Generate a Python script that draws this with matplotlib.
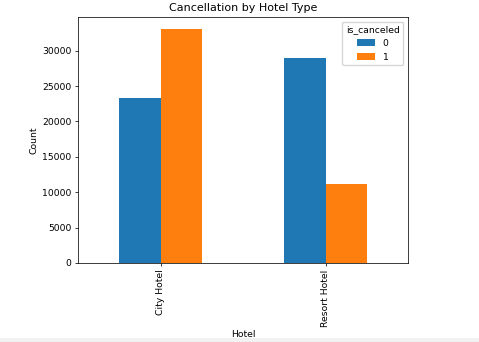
import matplotlib
matplotlib.use("Agg")
import matplotlib.pyplot as plt
import numpy as np
from matplotlib.patches import Rectangle

hotels = ["City Hotel", "Resort Hotel"]
not_canceled = [23300, 28938]
canceled = [33102, 11122]
series_labels = ["0", "1"]

s = 0.666
plt.rcParams.update({
    "font.size": 10 * s,
    "axes.linewidth": 0.8 * s,
    "xtick.major.size": 3.5 * s,
    "ytick.major.size": 3.5 * s,
    "xtick.major.width": 0.8 * s,
    "ytick.major.width": 0.8 * s,
    "xtick.major.pad": 3.5 * s,
    "ytick.major.pad": 3.5 * s,
    "axes.labelpad": 4 * s,
    "axes.titlepad": 6 * s,
})

W, H = 479, 342
fig = plt.figure(figsize=(W / 100, H / 100), dpi=100)
ax = fig.add_axes([78 / W, 1 - 263 / H, (408 - 78) / W, (263 - 17) / H])

x = np.arange(len(hotels))
w = 0.25
ax.bar(x - w / 2, not_canceled, w, color="#1f77b4", label=series_labels[0])
ax.bar(x + w / 2, canceled, w, color="#ff7f0e", label=series_labels[1])
ax.set_xlim(-0.5, 1.5)
ax.set_ylim(0, max(max(not_canceled), max(canceled)) * 1.05)
ax.set_xticks(x)
ax.set_xticklabels(hotels, rotation=90)
ax.set_title("Cancellation by Hotel Type", fontsize=12 * s)
ax.set_ylabel("Count")
ax.set_xlabel("Hotel")
ax.legend(title="is_canceled", loc="upper right")

fig.patches.append(Rectangle((0, 0), 1, 4 / H, transform=fig.transFigure,
                             facecolor="#f2f2f2", edgecolor="none", zorder=10))

fig.savefig("out.png", dpi=100)
